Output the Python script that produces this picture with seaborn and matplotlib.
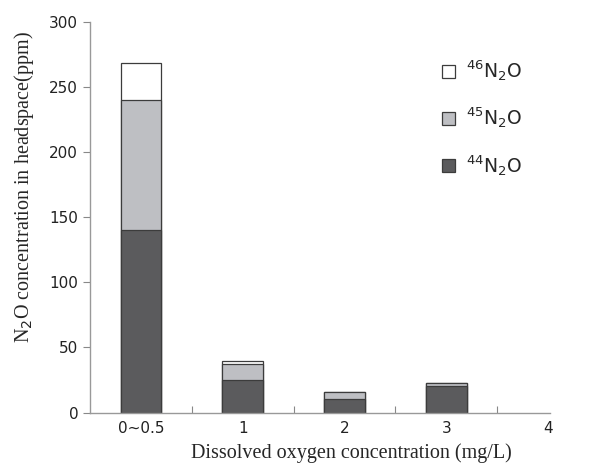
import numpy as np
import pandas as pd
import matplotlib
matplotlib.use("Agg")
import matplotlib.pyplot as plt
import seaborn as sns
from matplotlib.patches import Patch

# Datos
categories = ["0~0.5", "1", "2", "3", "4"]
n2o_44 = [140, 25, 10.5, 20.5, 0]
n2o_45 = [100, 12.5, 5, 1.8, 0]
n2o_46 = [28.5, 2, 0.3, 0.3, 0]

dark = "#5b5b5d"
light = "#bebfc3"
edge = "#3c3c3c"

sns.set_style("white")
plt.rcParams['font.family'] = ['DejaVu Sans']

df = pd.DataFrame({
    "cat": categories,
    "b44": n2o_44,
    "b45": np.add(n2o_44, n2o_45),
    "b46": np.add(np.add(n2o_44, n2o_45), n2o_46),
})

fig = plt.figure(figsize=(6, 4.63), dpi=100)
ax = fig.add_axes([0.15, 0.109, 0.767, 0.844])

for col, color in [("b46", "white"), ("b45", light), ("b44", dark)]:
    sns.barplot(data=df, x="cat", y=col, order=categories, color=color,
                edgecolor=edge, linewidth=0.9, width=0.4, saturation=1, ax=ax)

# las barras vacías no se dibujan
for p in ax.patches:
    if p.get_height() == 0:
        p.set_visible(False)

ax.set_xlim(-0.5, 4.02)
ax.set_ylim(0, 300)
ax.set_yticks([0, 50, 100, 150, 200, 250, 300])
ax.tick_params(axis="y", direction="out", length=5, width=0.8, color="#888888",
               labelsize=11, labelcolor="#222222", left=True)
ax.tick_params(axis="x", which="major", length=0, labelsize=11, labelcolor="#222222", pad=6)
ax.set_xticks([0.5, 1.5, 2.5, 3.5], minor=True)
ax.tick_params(axis="x", which="minor", direction="in", length=5, width=0.8,
               color="#888888", bottom=True)

for side in ["top", "right"]:
    ax.spines[side].set_visible(False)
for side in ["left", "bottom"]:
    ax.spines[side].set_color("#999999")
    ax.spines[side].set_linewidth(1.0)

ax.set_xlabel("Dissolved oxygen concentration (mg/L)", family="Liberation Serif",
              fontsize=14.5)
ax.set_ylabel(r"N$_2$O concentration in headspace(ppm)", family="Liberation Serif",
              fontsize=14.5)
ax.xaxis.set_label_coords(0.567, -0.078)
ax.yaxis.set_label_coords(-0.118, 0.578)

handles = [
    Patch(facecolor="white", edgecolor=edge, linewidth=0.9),
    Patch(facecolor=light, edgecolor=edge, linewidth=0.9),
    Patch(facecolor=dark, edgecolor=edge, linewidth=0.9),
]
labels = [r"$^{46}$N$_2$O", r"$^{45}$N$_2$O", r"$^{44}$N$_2$O"]
ax.legend(handles, labels, loc="upper left", bbox_to_anchor=(0.728, 0.95),
          frameon=False, fontsize=13.5, handlelength=0.7, handleheight=0.7,
          labelspacing=1.2, handletextpad=0.6)

fig.savefig("out.png", dpi=100)
